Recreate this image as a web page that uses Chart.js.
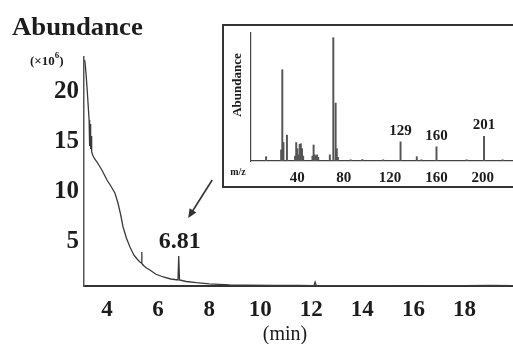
<!DOCTYPE html>
<html><head><meta charset="utf-8">
<script src="https://cdn.jsdelivr.net/npm/chart.js@4.4.0/dist/chart.umd.min.js"></script>
<style>
html,body{margin:0;padding:0;background:#fff;}
#wrap{position:relative;width:513px;height:344px;overflow:hidden;background:#fff;}
#main{position:absolute;left:0;top:0;}
#insetBox{position:absolute;left:222px;top:24px;width:293px;height:164px;border:2px solid #333;border-right:none;box-sizing:border-box;background:#fff;}
#inset{position:absolute;left:0;top:0;}
</style></head>
<body><div id="wrap"><canvas id="main" width="513" height="344"></canvas>
<div id="insetBox"><canvas id="inset" width="289" height="160"></canvas></div></div>
<script>
// ---- main chromatogram (retention time in min, abundance x10^6) ----
const times = [3.12,3.14,3.18,3.22,3.26,3.30,3.31,3.32,3.33,3.34,3.35,3.36,3.37,3.38,3.39,3.41,3.44,3.52,3.61,3.8,4.0,4.15,4.31,4.43,4.53,4.63,4.76,4.9,5.05,5.18,5.29,5.35,5.36,5.37,5.45,5.55,5.68,5.9,6.2,6.5,6.78,6.81,6.84,7.1,7.5,8.0,8.8,9.5,10.5,11.5,12.1,12.15,12.2,13,14,15,16,17,18,19,19.9];
const abundance = [23.2,23.0,21.8,20.4,18.8,17.2,15.0,17.0,14.6,16.8,14.4,16.2,14.3,15.6,14.1,14.0,13.7,13.3,13.0,12.2,11.2,10.6,9.9,8.9,7.8,6.5,5.4,4.5,3.7,3.3,3.0,2.9,4.0,2.85,2.6,2.4,2.2,1.8,1.5,1.3,1.2,3.6,1.2,1.05,0.93,0.82,0.72,0.68,0.66,0.65,0.64,1.0,0.64,0.63,0.64,0.63,0.62,0.64,0.63,0.65,0.64];
const xTicks = [4,6,8,10,12,14,16,18];
const yTicks = [5,10,15,20];
const peakTime = 6.81;
const peakLabel = '6.81';
const arrowFrom = [8.12, 11.2];
const arrowTo = [7.18, 7.4];

// ---- inset mass spectrum (m/z, relative abundance %) ----
const mz  = [13,26,27,28,31,38,39,40,41,42,43,44,45,53,54,55,56,57,58,68,71,73,74,75,86,96,114,129,143,147,160,186,201,217];
const rel = [3.5,9,74,15,21,4,15,10,5,13.5,14,10,4,4,13,5,4,5,3,5,100,47,10,3,1,1.2,1,15.5,3.5,1,11.5,1,20,1];
const labeledPeaks = [129,160,201];
const msTicks = [40,80,120,160,200];

const SERIF = '"Liberation Serif","Times New Roman",serif';
const INK = '#1c1c1c';

const mainText = {
  id:'mainText',
  afterDraw(chart){
    const c = chart.ctx, xs = chart.scales.x, ys = chart.scales.y;
    c.save();
    c.fillStyle = INK;
    c.textAlign = 'left'; c.textBaseline = 'alphabetic';
    c.font = 'bold 25px ' + SERIF;
    c.save(); c.translate(12, 35); c.scale(1.07, 1);
    c.fillText('Abundance', 0, 0);
    c.restore();
    c.font = 'bold 13px ' + SERIF;
    c.textBaseline = 'middle';
    let x = 30;
    c.fillText('(×10', x, 62); x += c.measureText('(×10').width;
    c.font = 'bold 9px ' + SERIF;
    c.fillText('6', x, 56); x += c.measureText('6').width;
    c.font = 'bold 13px ' + SERIF;
    c.fillText(')', x, 62);
    c.font = '20px ' + SERIF;
    c.textAlign = 'center';
    c.fillText('(min)', 285, 335);
    // peak label
    const idx = times.indexOf(peakTime);
    c.font = 'bold 24px ' + SERIF;
    c.fillText(peakLabel, xs.getPixelForValue(peakTime) + 1, ys.getPixelForValue(abundance[idx]) - 14);
    // arrow
    const x1 = xs.getPixelForValue(arrowFrom[0]), y1 = ys.getPixelForValue(arrowFrom[1]);
    const x2 = xs.getPixelForValue(arrowTo[0]), y2 = ys.getPixelForValue(arrowTo[1]);
    const ang = Math.atan2(y2-y1, x2-x1);
    c.strokeStyle = '#333'; c.lineWidth = 1.6;
    c.beginPath(); c.moveTo(x1,y1); c.lineTo(x2 - 5*Math.cos(ang), y2 - 5*Math.sin(ang)); c.stroke();
    c.fillStyle = '#333';
    c.beginPath();
    c.moveTo(x2,y2);
    c.lineTo(x2 - 9*Math.cos(ang) + 4*Math.sin(ang), y2 - 9*Math.sin(ang) - 4*Math.cos(ang));
    c.lineTo(x2 - 9*Math.cos(ang) - 4*Math.sin(ang), y2 - 9*Math.sin(ang) + 4*Math.cos(ang));
    c.closePath(); c.fill();
    c.restore();
  }
};

new Chart(document.getElementById('main'), {
  type:'line',
  data:{datasets:[{data: times.map((t,i)=>({x:t,y:abundance[i]})), borderColor:'#3a3a3a', borderWidth:1.3, pointRadius:0, tension:0, fill:false}]},
  options:{
    responsive:false, animation:false, devicePixelRatio:1,
    layout:{padding:{top:57,left:0,right:0,bottom:0}},
    plugins:{legend:{display:false}, tooltip:{enabled:false}},
    scales:{
      x:{type:'linear', min:3.1, max:19.9,
        grid:{display:false, drawTicks:false},
        border:{display:true, color:'#333', width:2},
        afterBuildTicks:s=>{s.ticks = xTicks.map(v=>({value:v}));},
        afterFit:s=>{s.height = 58;},
        ticks:{font:{family:SERIF, size:23, weight:'bold'}, color:INK, padding:10, maxRotation:0, autoSkip:false}},
      y:{type:'linear', min:0.6, max:23.5,
        grid:{display:false, drawTicks:false},
        border:{display:true, color:'#555', width:1.5},
        afterBuildTicks:s=>{s.ticks = yTicks.map(v=>({value:v}));},
        afterFit:s=>{s.width = 84;},
        ticks:{font:{family:SERIF, size:25, weight:'bold'}, color:INK, padding:5, autoSkip:false}}
    }
  },
  plugins:[mainText]
});

const insetText = {
  id:'insetText',
  afterDraw(chart){
    const c = chart.ctx, xs = chart.scales.x, ys = chart.scales.y;
    c.save();
    c.fillStyle = INK;
    c.font = 'bold 13px ' + SERIF;
    c.textAlign = 'center'; c.textBaseline = 'middle';
    c.translate(14, 59); c.rotate(-Math.PI/2);
    c.fillText('Abundance', 0, 0);
    c.setTransform(1,0,0,1,0,0);
    c.font = 'bold 10px ' + SERIF;
    c.fillText('m/z', 14, 146);
    c.font = 'bold 15px ' + SERIF;
    labeledPeaks.forEach(p=>{
      const v = rel[mz.indexOf(p)];
      c.fillText(String(p), xs.getPixelForValue(p), ys.getPixelForValue(v) - 11);
    });
    c.restore();
  }
};

new Chart(document.getElementById('inset'), {
  type:'bar',
  data:{datasets:[{data: mz.map((m,i)=>({x:m,y:rel[i]})), backgroundColor:'#555', barThickness:1.3, borderWidth:0}]},
  options:{
    responsive:false, animation:false, devicePixelRatio:1,
    layout:{padding:{top:7,left:0,right:0,bottom:0}},
    plugins:{legend:{display:false}, tooltip:{enabled:false}},
    scales:{
      x:{type:'linear', min:0, max:226, offset:false,
        grid:{display:false, drawTicks:false},
        border:{display:true, color:'#444', width:1.2},
        afterBuildTicks:s=>{s.ticks = msTicks.map(v=>({value:v}));},
        afterFit:s=>{s.height = 25;},
        ticks:{font:{family:SERIF, size:15, weight:'bold'}, color:INK, padding:8, maxRotation:0, autoSkip:false}},
      y:{type:'linear', min:0, max:103.8,
        grid:{display:false, drawTicks:false},
        border:{display:true, color:'#444', width:1.2},
        afterFit:s=>{s.width = 27;},
        ticks:{display:false}}
    }
  },
  plugins:[insetText]
});
</script>
</body></html>
